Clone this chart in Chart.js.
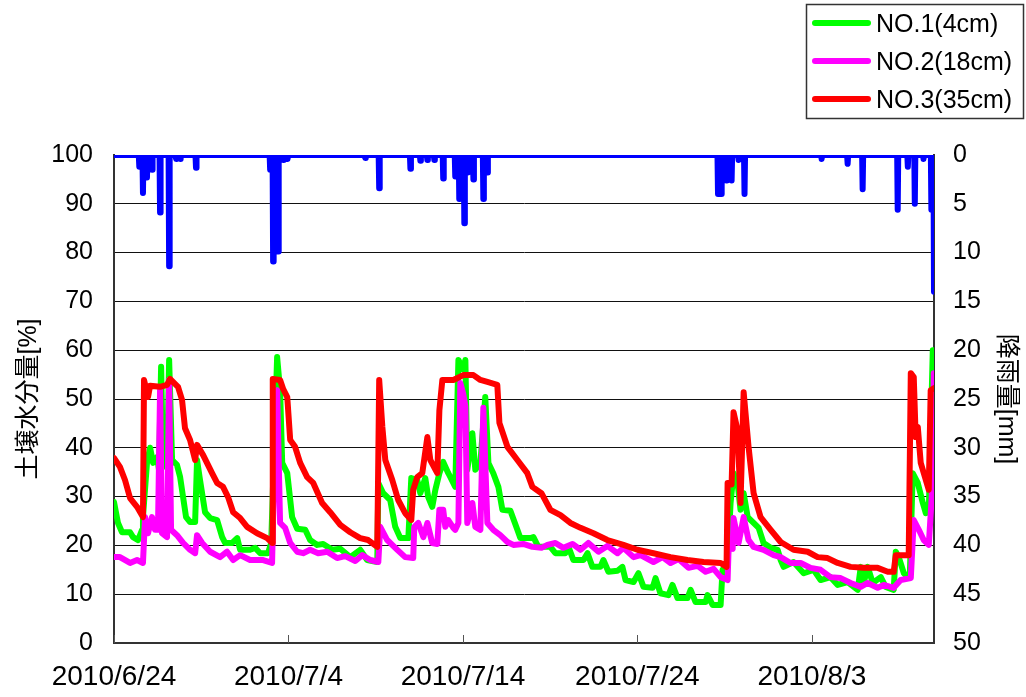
<!DOCTYPE html>
<html>
<head>
<meta charset="utf-8">
<script src="https://cdn.jsdelivr.net/npm/chart.js@4/dist/chart.umd.min.js"></script>
<style>
  html, body { margin: 0; padding: 0; background: #fff; }
  #wrap { width: 1026px; height: 697px; position: relative; }
</style>
</head>
<body>
<div id="wrap"><canvas id="c" width="1026" height="697"></canvas></div>
<script>
// Time axis: days since 2010/6/24 00:00
const xTickLabels = ['2010/6/24', '2010/7/4', '2010/7/14', '2010/7/24', '2010/8/3'];

// NO.1 (4cm) soil moisture [%]
const no1Days = [0,0.23,0.46,0.92,1.09,1.38,1.61,1.66,1.89,2.07,2.24,2.47,2.58,2.70,2.81,3.04,3.16,3.33,3.61,3.79,3.96,4.13,4.36,4.65,4.76,4.93,5.22,5.51,5.91,6.20,6.37,6.77,7.06,7.23,7.80,8.09,8.38,8.83,9.01,9.35,9.52,9.64,9.93,10.21,10.50,10.96,11.24,11.65,11.99,12.51,12.97,13.54,14.11,14.51,15.09,15.15,15.43,15.83,16.12,16.41,16.87,17.04,17.38,17.56,17.84,18.01,18.24,18.42,18.65,18.87,19.16,19.28,19.56,19.74,20.02,20.14,20.25,20.54,20.71,21.00,21.28,21.46,21.74,22.03,22.26,22.72,23.12,23.29,23.87,24.04,24.32,25.01,25.30,25.87,26.05,26.33,26.91,27.14,27.42,27.88,28.05,28.34,28.86,29.14,29.32,29.78,30.06,30.35,30.87,31.04,31.32,31.78,32.01,32.30,32.87,33.05,33.33,33.91,34.02,34.31,34.77,34.88,35.17,35.34,35.51,35.74,35.91,36.09,36.32,36.66,36.95,37.23,37.64,38.04,38.21,38.38,38.95,39.53,40.10,40.50,41.07,41.48,42.05,42.63,42.80,42.97,43.20,43.49,43.95,44.23,44.69,44.81,44.98,45.27,45.49,45.61,45.78,46.07,46.36,46.53,46.70,46.93];
const no1Vals = [28.9,24.6,22.7,22.7,21.7,21.1,23.2,25.8,36.9,40.0,36.9,38.1,35.5,56.6,36.9,35.9,58.0,37.5,36.5,34.0,29.9,25.8,24.8,24.8,37.5,33.4,26.8,25.6,25.2,21.7,20.5,20.5,21.5,19.1,19.1,19.5,18.4,18.4,20.5,58.6,51.8,36.9,34.8,25.8,23.4,23.2,21.1,20.1,20.3,19.1,19.3,17.6,19.1,17.0,16.6,32.8,30.7,29.3,23.8,21.5,21.5,33.8,33.4,30.7,33.8,29.9,27.9,31.4,34.8,37.1,34.8,34.0,32.0,58.0,56.0,58.0,35.5,43.0,35.5,36.9,50.4,36.9,34.8,32.0,27.3,27.1,23.2,21.5,21.5,21.7,19.7,19.7,18.4,18.4,19.7,17.0,17.0,18.4,15.6,15.6,17.0,14.6,14.8,15.6,12.9,12.5,14.3,11.5,11.3,13.3,10.2,9.8,11.9,9.2,9.2,10.9,8.4,8.4,9.8,7.8,7.8,15.0,16.4,28.7,34.8,32.8,27.3,30.7,25.8,24.6,23.6,20.5,19.5,19.1,17.0,15.6,16.6,14.3,15.0,12.9,13.5,11.9,12.5,10.9,15.6,12.3,15.6,12.3,13.5,11.5,10.9,18.7,17.6,14.3,13.5,13.5,34.8,32.8,28.7,26.6,26.8,60.0];

// NO.2 (18cm) soil moisture [%]
const no2Days = [0,0.34,0.92,1.32,1.66,1.78,1.95,2.18,2.35,2.52,2.64,2.75,3.04,3.16,3.27,3.61,3.96,4.36,4.65,4.76,5.05,5.51,6.08,6.48,6.83,7.23,7.80,8.55,9.06,9.12,9.35,9.52,9.81,10.10,10.50,10.84,11.24,11.70,12.22,12.79,13.25,13.83,14.23,14.69,15.15,15.26,15.66,16.24,16.69,17.15,17.21,17.44,17.73,17.96,18.24,18.53,18.65,18.87,18.99,19.16,19.45,19.56,19.74,19.85,20.02,20.14,20.25,20.54,20.71,21.00,21.17,21.40,21.74,22.14,22.55,22.89,23.46,23.98,24.50,24.84,25.30,25.76,26.28,26.74,27.19,27.77,28.28,28.86,29.20,29.78,30.18,30.92,31.44,31.90,32.36,32.93,33.45,33.91,34.37,34.77,35.17,35.23,35.46,35.51,35.80,36.09,36.37,36.66,37.23,37.81,38.21,38.78,39.36,39.93,40.50,41.07,41.65,42.22,42.80,43.20,43.77,44.12,44.69,45.09,45.67,45.84,46.13,46.41,46.70,46.87,46.99];
const no2Vals = [17.6,17.6,16.4,17.0,16.4,25.8,22.5,25.8,23.2,23.2,51.8,22.5,21.7,53.9,23.2,22.1,20.5,19.1,18.4,22.1,20.5,18.7,17.6,18.7,17.0,18.0,17.0,17.0,16.4,25.8,51.8,24.6,23.6,20.5,18.7,18.4,19.1,18.4,18.7,17.4,17.8,16.8,18.0,17.0,16.6,23.8,21.1,19.1,17.6,17.4,23.8,24.6,21.7,24.6,20.5,20.3,27.3,27.3,23.8,25.2,23.6,23.2,24.6,53.3,51.0,48.4,24.6,28.7,23.8,23.2,48.2,24.6,23.2,22.1,20.7,20.1,20.3,19.7,19.5,20.1,20.5,19.5,20.3,19.1,20.5,18.7,19.9,18.4,19.5,17.6,18.0,16.6,17.6,16.4,17.2,15.4,15.8,14.6,15.2,13.5,12.9,19.7,19.3,25.6,20.5,25.8,21.1,19.7,19.1,18.0,17.6,16.4,16.4,15.4,15.0,13.5,13.3,12.3,11.5,12.3,11.3,11.9,11.3,12.9,13.3,25.2,23.2,21.1,20.1,29.9,55.3];

// NO.3 (35cm) soil moisture [%]
const no3Days = [0,0.34,0.63,0.92,1.32,1.66,1.72,1.95,2.07,2.64,3.04,3.21,3.67,3.90,4.07,4.36,4.65,4.76,5.11,5.62,5.91,6.25,6.54,6.83,7.23,7.63,8.20,8.78,9.06,9.10,9.52,9.70,9.93,10.10,10.38,10.67,11.07,11.42,11.93,12.39,12.97,13.54,14.11,14.57,15.09,15.20,15.38,15.55,15.95,16.29,16.69,17.04,17.15,17.38,17.67,17.96,18.13,18.53,18.65,18.82,19.45,20.02,20.60,21.00,21.40,21.97,22.09,22.55,23.12,23.69,23.98,24.50,25.01,25.59,26.16,26.74,27.48,28.28,29.20,30.00,30.92,31.90,32.87,33.79,34.77,35.11,35.17,35.40,35.51,35.74,35.91,36.09,36.37,36.66,37.06,37.64,38.21,38.95,39.76,40.33,40.90,41.48,42.22,42.97,43.77,44.35,44.69,44.81,45.55,45.67,45.84,45.95,46.07,46.24,46.53,46.70,46.81,46.99];
const no3Vals = [37.9,36.1,33.4,29.7,27.9,25.8,53.9,50.4,52.7,52.5,52.9,54.1,52.5,49.8,44.0,41.6,37.5,40.6,38.5,34.8,32.8,32.0,29.9,26.8,25.6,23.8,22.5,21.5,20.5,54.1,53.9,52.0,50.4,41.6,40.2,36.9,34.0,32.8,28.7,26.8,24.2,22.7,21.5,21.1,19.7,53.9,44.3,37.5,33.4,29.3,26.6,25.2,31.4,34.0,34.8,42.2,37.5,34.8,47.7,53.9,53.9,54.9,54.9,53.9,53.5,52.9,45.1,40.2,37.5,34.8,32.0,30.7,27.3,26.2,24.6,23.6,22.5,21.1,20.1,19.1,18.4,17.6,17.0,16.6,16.4,15.6,32.8,32.5,47.3,43.6,28.7,51.4,40.2,30.7,25.8,23.2,20.7,19.1,18.7,17.6,17.4,16.4,15.6,15.4,15.4,14.6,14.6,18.0,18.0,55.3,54.5,42.2,44.3,36.9,33.4,31.4,51.8,52.2];

// Rainfall events [mm], drawn downward from the top on the right axis
const rainDays = [1.45,1.66,1.89,2.18,2.64,3.16,3.56,3.79,4.70,8.95,9.12,9.41,9.70,9.95,14.40,15.20,16.99,17.56,17.96,18.36,18.87,19.56,19.79,20.08,20.25,20.60,21.17,21.40,34.62,34.80,35.10,35.40,35.80,36.14,40.56,42.05,42.91,44.92,45.50,45.90,46.40,46.85,47.00];
const rainMm   = [1.2,3.9,2.3,1.5,5.9,11.4,0.4,0.4,1.3,1.5,10.9,9.9,0.5,0.4,0.3,3.4,1.4,0.6,0.5,0.5,2.4,2.2,4.5,7.0,1.8,2.5,4.5,1.8,4.0,4.0,2.6,2.6,0.5,4.0,0.4,0.9,3.5,5.6,1.2,5.0,0.4,5.6,14.0];

const xMax = 47;

function toPoints(days, vals) {
  return days.map((d, i) => ({ x: d, y: vals[i] }));
}

// Each rain record becomes a narrow spike hanging from the zero line
function rainPoints(days, mm) {
  const pts = [{ x: 0, y: 0 }];
  const w = 0.03;
  days.forEach((d, i) => {
    pts.push({ x: d - w, y: 0 });
    pts.push({ x: d, y: mm[i] });
    if (d + w <= xMax) pts.push({ x: d + w, y: 0 });
  });
  if (days[days.length - 1] < xMax) pts.push({ x: xMax, y: 0 });
  return pts;
}

const FONT = "'Liberation Sans', Arial, 'Noto Sans CJK JP', sans-serif";

// Frame details: inward ticks on the date axis and the boxed legend
const frameExtras = {
  id: 'frameExtras',
  afterDatasetsDraw(chart) {
    const { ctx, chartArea, scales } = chart;
    const x = scales.x;
    ctx.save();
    ctx.strokeStyle = '#555';
    ctx.lineWidth = 1;
    x.ticks.forEach(t => {
      const px = Math.round(x.getPixelForValue(t.value)) + 0.5;
      ctx.beginPath();
      ctx.moveTo(px, chartArea.bottom);
      ctx.lineTo(px, chartArea.bottom - 8);
      ctx.stroke();
    });
    ctx.restore();
  },
  afterDraw(chart) {
    const ctx = chart.ctx;
    const items = chart.data.datasets.filter(ds => ds.inLegend);
    const box = { x: 806.5, y: 4.5, w: 217, h: 114 };
    ctx.save();
    ctx.fillStyle = '#fff';
    ctx.fillRect(box.x, box.y, box.w, box.h);
    ctx.strokeStyle = '#333';
    ctx.lineWidth = 1.5;
    ctx.strokeRect(box.x, box.y, box.w, box.h);
    ctx.font = '25px ' + FONT;
    ctx.textBaseline = 'middle';
    ctx.fillStyle = '#000';
    items.forEach((ds, i) => {
      const y = 23 + i * 38;
      ctx.strokeStyle = ds.borderColor;
      ctx.lineWidth = 6;
      ctx.lineCap = 'round';
      ctx.beginPath();
      ctx.moveTo(815, y);
      ctx.lineTo(868, y);
      ctx.stroke();
      ctx.fillText(ds.label, 876, y + 2);
    });
    ctx.restore();
  }
};

const lineStyle = {
  pointRadius: 0,
  pointHoverRadius: 0,
  borderWidth: 6,
  tension: 0,
  fill: false,
  borderJoinStyle: 'round',
  borderCapStyle: 'round'
};

new Chart(document.getElementById('c'), {
  type: 'line',
  data: {
    datasets: [
      Object.assign({ label: '降雨量', data: rainPoints(rainDays, rainMm), borderColor: '#0000FF', yAxisID: 'y1', order: 0, inLegend: false }, lineStyle),
      Object.assign({ label: 'NO.3(35cm)', data: toPoints(no3Days, no3Vals), borderColor: '#FF0000', yAxisID: 'y', order: 1, inLegend: true }, lineStyle),
      Object.assign({ label: 'NO.2(18cm)', data: toPoints(no2Days, no2Vals), borderColor: '#FF00FF', yAxisID: 'y', order: 2, inLegend: true }, lineStyle),
      Object.assign({ label: 'NO.1(4cm)', data: toPoints(no1Days, no1Vals), borderColor: '#00FF00', yAxisID: 'y', order: 3, inLegend: true }, lineStyle)
    ].reverse()
  },
  options: {
    responsive: false,
    devicePixelRatio: 1,
    animation: false,
    events: [],
    layout: { padding: { top: 155, left: 0, right: 0, bottom: 0 } },
    plugins: { legend: { display: false }, tooltip: { enabled: false } },
    scales: {
      x: {
        type: 'linear',
        min: 0,
        max: xMax,
        afterFit(s) { s.height = 54; },
        ticks: {
          stepSize: 10,
          includeBounds: false,
          autoSkip: false,
          maxRotation: 0,
          minRotation: 0,
          padding: 17,
          color: '#000',
          font: { family: FONT, size: 28 },
          callback: v => xTickLabels[Math.round(v / 10)] ?? ''
        },
        grid: { drawOnChartArea: false, drawTicks: false },
        border: { color: '#333', width: 2 }
      },
      y: {
        position: 'left',
        min: 0,
        max: 100,
        afterFit(s) { s.width = 114; },
        ticks: {
          stepSize: 10,
          padding: 21,
          color: '#000',
          font: { family: FONT, size: 25 }
        },
        grid: { color: '#111', lineWidth: 1, drawTicks: false },
        border: { color: '#333', width: 2 },
        title: {
          display: true,
          text: '土壌水分量[%]',
          color: '#000',
          font: { family: FONT, size: 25 },
          padding: { top: 14, bottom: 0 }
        }
      },
      y1: {
        position: 'right',
        reverse: true,
        min: 0,
        max: 50,
        afterFit(s) { s.width = 92; },
        ticks: {
          stepSize: 5,
          padding: 19,
          color: '#000',
          font: { family: FONT, size: 25 }
        },
        grid: { drawOnChartArea: false, drawTicks: false },
        border: { color: '#333', width: 2 },
        title: {
          display: true,
          text: '降雨量[mm]',
          color: '#000',
          font: { family: FONT, size: 25 },
          padding: { top: 5, bottom: 0 }
        }
      }
    }
  },
  plugins: [frameExtras]
});
</script>
</body>
</html>
